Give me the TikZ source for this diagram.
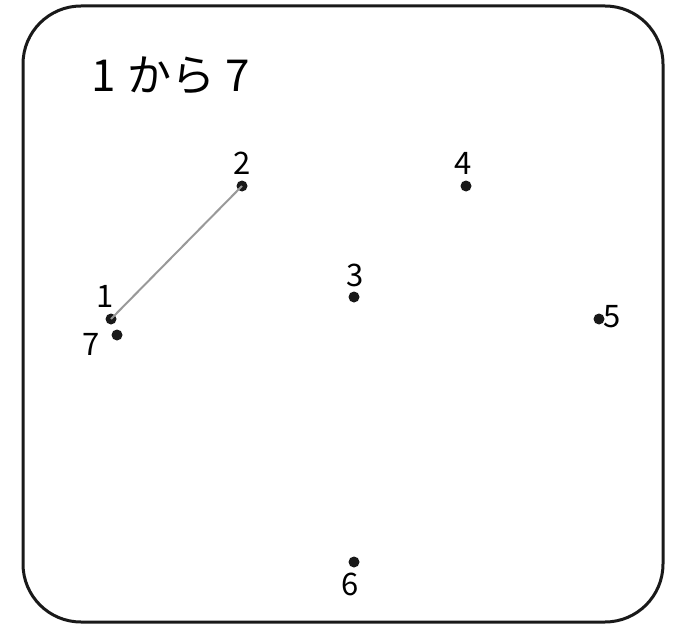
\documentclass[tikz,border=0pt]{standalone}
\usepackage{fontspec}
\setmainfont{Noto Sans CJK JP}
\begin{document}
\begin{tikzpicture}[x=1pt,y=-1pt,
  dot/.style={circle,fill=black!90,inner sep=0pt,minimum size=11pt},
  lbl/.style={font=\fontsize{31}{31}\selectfont,inner sep=0pt,anchor=center},
  link/.style={draw=black!40,line width=2pt}]
\useasboundingbox (0,0) rectangle (678,626);
\draw[line width=3pt,black!90,rounded corners=58pt] (23,6) rectangle (663,622);
\node[anchor=west,inner sep=0pt,font=\fontsize{44}{44}\selectfont] (title) at (91,76) {1\hspace{12pt}から\hspace{10pt}7};
\node[dot] (p1) at (111,319) {};
\node[dot] (p2) at (242,186) {};
\node[dot] (p3) at (354,297) {};
\node[dot] (p4) at (466,186) {};
\node[dot] (p5) at (599,319) {};
\node[dot] (p6) at (354,562) {};
\node[dot] (p7) at (117,335) {};
\draw[link] (p1.center) -- (p2.center);
\node[lbl] (l1) at (105,296) {1};
\node[lbl] (l2) at (242,163) {2};
\node[lbl] (l3) at (355,275) {3};
\node[lbl] (l4) at (463,163) {4};
\node[lbl] (l5) at (612,317) {5};
\node[lbl] (l6) at (350,584) {6};
\node[lbl] (l7) at (91,344) {7};
\end{tikzpicture}
\end{document}
